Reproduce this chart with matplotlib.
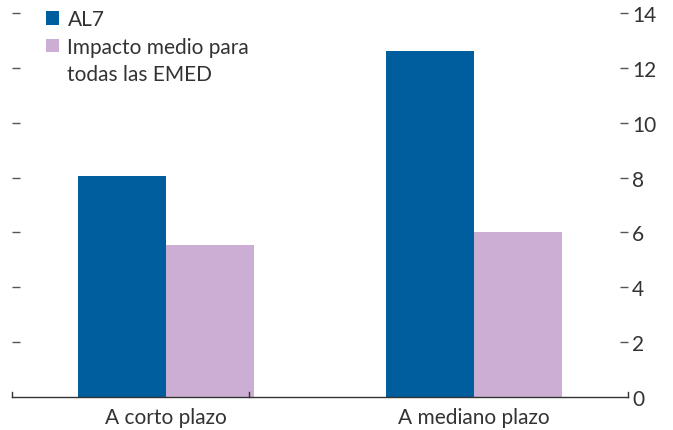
import matplotlib.pyplot as plt
from matplotlib.patches import Patch
import numpy as np

plt.rcParams['font.family'] = ['Lato', 'DejaVu Sans']

categories = ['A corto plazo', 'A mediano plazo']
al7 = [8.07, 12.6]
emed = [5.55, 6.02]
series_names = ['AL7', 'Impacto medio para', 'todas las EMED']
yticks = [0, 2, 4, 6, 8, 10, 12, 14]

fig = plt.figure(figsize=(6.73, 4.31), dpi=100)
ax = fig.add_axes([12 / 673, 33 / 431, 616 / 673, 384 / 431])

x = np.arange(len(categories))
w = 0.285
b1 = ax.bar(x - w / 2, al7, width=w, color='#005D9E')
b2 = ax.bar(x + w / 2, emed, width=w, color='#CCAED4')

ax.set_xlim(-0.5, 1.5)
ax.set_ylim(0, 14)
ax.set_yticks(yticks)
ax.set_xticks(x)
ax.set_xticklabels(categories)

for s in ['top', 'left', 'right']:
    ax.spines[s].set_visible(False)
ax.spines['bottom'].set_color('#333333')
ax.spines['bottom'].set_linewidth(1.0)

ax.tick_params(axis='y', left=True, right=True, labelleft=False, labelright=True,
               direction='in', length=6, width=1, pad=3, colors='#555555',
               labelcolor='#333333', labelsize=15)
ax.tick_params(axis='x', bottom=False, labelsize=15, labelcolor='#333333', pad=4)

# small upward ticks on the baseline
for xp in [-0.5, 0.27, 1.5]:
    ax.plot([xp, xp], [0, 0.2], color='#333333', lw=1, clip_on=False)

# hide the zero tick marks so only the label remains
ax.yaxis.get_major_ticks()[0].tick1line.set_visible(False)
ax.yaxis.get_major_ticks()[0].tick2line.set_visible(False)

# legend: square aligned with first line of the two-line label
handles = [b1, b2, Patch(facecolor='none', edgecolor='none')]
leg = ax.legend(handles, series_names, loc='upper left', bbox_to_anchor=(0.0555, 1.01),
                frameon=False, fontsize=15, handlelength=0.62, handleheight=0.62,
                handletextpad=0.4, labelspacing=0.36, borderaxespad=0, borderpad=0)
for t in leg.get_texts():
    t.set_color('#333333')

fig.savefig('out.png', dpi=100)
